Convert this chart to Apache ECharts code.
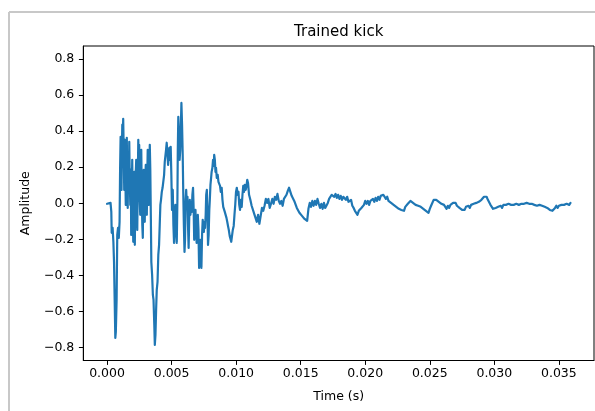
<!DOCTYPE html>
<html><head><meta charset="utf-8">
<script src="https://cdn.jsdelivr.net/npm/echarts@6/dist/echarts.min.js"></script>
<style>html,body{margin:0;padding:0;background:#fff}#c{width:595px;height:411px}</style>
</head><body><div id="c"></div><script>
// Time in milliseconds, amplitude
const headTimeMs = [
0.00,0.08,0.15,0.27,0.33,0.36,0.43,0.49,0.54,0.59,0.64,0.68,0.74,0.79,0.85,0.91,0.97,
1.01,1.05,1.08,1.12,1.15,1.18,1.22,1.25,1.29,1.33,1.37,1.41,1.45,1.49,1.53,1.56,1.60,1.64,1.68,1.72,1.76,1.80,1.84,1.87,1.91,1.95,1.99,
2.03,2.07,2.11,2.15,2.18,2.22,2.26,2.30,2.34,2.38,2.42,2.46,2.49,2.53,2.57,2.61,2.65,2.69,2.73,2.77,2.80,2.84,2.88,2.92,2.96,
3.00,3.04,3.08,3.11,3.15,3.19,3.23,3.27,3.31,3.35,3.39,3.43,3.49,3.55,3.60,3.66,3.70,3.75,3.80,3.85,3.91,3.97,
4.03,4.08,4.13,4.18,4.24,4.30,4.36,4.42,4.47,4.52,4.57,4.62,4.67,4.73,4.78,4.83,4.88,4.93,4.98,
5.03,5.09,5.14,5.19,5.24,5.29,5.34,5.40,5.45,5.48,5.52,5.58,5.62,5.67,5.72,5.76,5.81,5.86,5.90,5.95,
6.00,6.04,6.09,6.13,6.18,6.23,6.27,6.32,6.37,6.41,6.46,6.51,6.56,6.61,6.66,6.71,6.75,6.80,6.85,6.89,6.94,6.99,
7.03,7.08,7.13,7.17,7.22,7.27,7.31,7.36,7.41,7.45,7.50,7.54,7.59,7.64,7.68,7.73,7.78,7.82,7.87,7.92,7.96,
8.01,8.06,8.10,8.16,8.21,8.26,8.30,8.35,8.40,8.44,8.50,8.57,8.63,8.69,8.75,8.81,8.88,8.94,
9.00,9.06,9.12,9.19,9.25,9.31,9.37,9.43,9.50,9.56,9.62,9.68,9.74,9.81,9.87,9.93,9.99,
10.05,10.12,10.18,10.24,10.30,10.36,10.43,10.49,10.55,10.61,10.67,10.74,10.80,10.86,10.92
];
const headAmp = [
-0.003,0.002,-0.006,0.002,-0.048,-0.164,-0.137,-0.214,-0.326,-0.537,-0.748,-0.714,-0.537,-0.176,-0.137,-0.192,-0.103,
0.186,0.369,0.241,0.074,0.297,0.436,0.352,0.469,0.297,0.074,0.352,0.213,-0.009,0.297,0.363,0.158,-0.026,0.241,0.074,0.341,0.130,-0.009,0.186,-0.176,0.019,0.241,-0.064,
-0.214,0.074,0.174,-0.231,-0.037,0.158,0.241,0.019,-0.148,0.130,0.352,0.213,0.324,0.019,-0.064,0.241,0.297,0.047,-0.120,-0.192,0.019,0.186,0.074,-0.103,0.130,
0.213,0.019,-0.064,0.130,0.297,0.241,-0.009,0.186,0.324,0.186,-0.064,-0.326,-0.397,-0.509,-0.537,-0.676,-0.787,-0.731,-0.592,-0.481,-0.437,-0.287,
-0.231,-0.120,-0.009,0.019,0.063,0.086,0.097,0.158,0.230,0.241,0.297,0.336,0.286,0.213,0.269,0.308,0.241,0.313,0.158,
-0.037,0.074,-0.120,-0.220,-0.064,-0.009,-0.148,-0.220,0.019,0.297,0.480,0.352,0.241,0.297,0.436,0.557,0.436,0.269,0.074,-0.120,
-0.270,-0.203,0.019,0.074,-0.009,0.036,-0.120,-0.248,-0.064,0.019,-0.064,-0.009,-0.048,0.047,0.086,-0.037,-0.203,-0.103,-0.037,-0.148,-0.220,-0.120,
-0.064,-0.148,-0.359,-0.259,-0.203,-0.287,-0.359,-0.176,-0.092,-0.120,-0.159,-0.103,-0.137,-0.064,0.047,0.074,-0.064,-0.231,-0.176,-0.037,0.019,
0.102,0.141,0.174,0.197,0.241,0.208,0.269,0.241,0.174,0.197,0.141,0.158,0.119,0.130,0.097,0.063,0.086,0.019,
-0.020,-0.009,-0.048,-0.037,-0.081,-0.103,-0.126,-0.148,-0.181,-0.170,-0.214,-0.181,-0.148,-0.126,-0.064,-0.009,0.063,
0.086,0.047,0.063,-0.009,-0.037,0.019,-0.020,0.047,0.097,0.063,0.102,0.074,0.097,0.130,0.113
];
const tailTimeMs = [
11.0,11.1,11.2,11.3,11.4,11.5,11.6,11.7,11.8,11.9,
12.0,12.1,12.2,12.3,12.4,12.5,12.6,12.7,12.8,12.9,
13.0,13.1,13.2,13.3,13.4,13.5,13.6,13.7,13.8,13.9,
14.0,14.1,14.2,14.3,14.4,14.5,14.6,14.7,14.8,14.9,
15.0,15.1,15.2,15.3,15.4,15.5,15.6,15.7,15.8,15.9,
16.0,16.1,16.2,16.3,16.4,16.5,16.6,16.7,16.8,16.9,
17.0,17.1,17.2,17.3,17.4,17.5,17.6,17.7,17.8,17.9,
18.0,18.1,18.2,18.3,18.4,18.5,18.6,18.7,18.8,18.9,
19.0,19.1,19.2,19.3,19.4,19.5,19.6,19.7,19.8,19.9,
20.0,20.1,20.2,20.3,20.4,20.5,20.6,20.7,20.8,20.9,
21.0,21.1,21.2,21.3,21.4,21.5,21.6,21.7,21.8,21.9,
22.0,22.1,22.2,22.3,22.4,22.5,22.6,22.7,22.8,22.9,
23.0,23.1,23.2,23.3,23.4,23.5,23.6,23.7,23.8,23.9,
24.0,24.1,24.2,24.3,24.4,24.5,24.6,24.7,24.8,24.9,
25.0,25.1,25.2,25.3,25.4,25.5,25.6,25.7,25.8,25.9,
26.0,26.1,26.2,26.3,26.4,26.5,26.6,26.7,26.8,26.9,
27.0,27.1,27.2,27.3,27.4,27.5,27.6,27.7,27.8,27.9,
28.0,28.1,28.2,28.3,28.4,28.5,28.6,28.7,28.8,28.9,
29.0,29.1,29.2,29.3,29.4,29.5,29.6,29.7,29.8,29.9,
30.0,30.1,30.2,30.3,30.4,30.5,30.6,30.7,30.8,30.9,
31.0,31.1,31.2,31.3,31.4,31.5,31.6,31.7,31.8,31.9,
32.0,32.1,32.2,32.3,32.4,32.5,32.6,32.7,32.8,32.9,
33.0,33.1,33.2,33.3,33.4,33.5,33.6,33.7,33.8,33.9,
34.0,34.1,34.2,34.3,34.4,34.5,34.6,34.7,34.8,34.9,
35.0,35.1,35.2,35.3,35.4,35.5,35.6,35.7,35.8,35.9
];
const tailAmp = [
0.047,0.019,-0.014,-0.003,-0.059,-0.081,-0.103,-0.064,-0.114,-0.070,
-0.026,-0.042,-0.014,0.024,0.002,0.024,-0.026,-0.003,0.024,-0.003,
0.036,0.019,0.052,0.013,-0.003,0.013,-0.014,0.024,0.013,0.047,
0.069,0.086,0.063,0.041,0.047,0.013,0.002,-0.026,-0.026,-0.053,
-0.042,-0.070,-0.064,-0.087,-0.081,-0.098,-0.031,0.002,-0.020,0.013,
-0.014,0.013,-0.009,0.024,-0.003,-0.026,-0.003,-0.031,0.002,-0.026,
-0.031,0.002,0.024,0.030,0.047,0.058,0.036,0.052,0.030,0.047,
0.024,0.041,0.019,0.036,0.041,0.019,0.036,0.008,0.002,0.019,
-0.014,-0.026,-0.042,-0.053,-0.064,-0.042,-0.053,-0.026,-0.037,-0.009,
0.013,-0.003,0.013,-0.009,0.013,0.002,0.024,0.008,0.030,0.013,
0.036,0.019,0.041,0.030,0.047,0.036,0.024,0.036,0.013,0.024,
0.002,0.013,-0.009,0.002,-0.020,-0.014,-0.031,-0.020,-0.037,-0.026,
-0.042,-0.020,-0.014,-0.003,0.002,0.013,0.019,0.002,0.013,-0.009,
0.002,-0.014,-0.009,-0.020,-0.014,-0.031,-0.026,-0.042,-0.037,-0.053,
-0.031,-0.014,-0.003,0.019,0.030,0.019,0.024,0.008,0.019,-0.003,
0.008,-0.009,-0.020,-0.031,-0.014,-0.026,-0.009,-0.014,0.002,-0.009,
0.002,-0.014,-0.009,-0.026,-0.020,-0.037,-0.026,-0.037,-0.020,-0.031,
-0.014,-0.026,-0.009,-0.020,-0.003,-0.014,0.002,-0.009,0.008,0.002,
0.019,0.024,0.036,0.041,0.036,0.019,0.008,-0.009,-0.020,-0.031,
-0.037,-0.026,-0.037,-0.020,-0.031,-0.014,-0.026,-0.009,-0.020,-0.009,
-0.014,-0.003,-0.014,-0.009,-0.020,-0.009,-0.014,-0.003,-0.014,-0.009,
-0.014,-0.003,-0.014,-0.003,-0.009,0.002,-0.009,-0.003,-0.014,-0.003,
-0.014,-0.009,-0.020,-0.014,-0.020,-0.009,-0.020,-0.014,-0.009,-0.020,
-0.014,-0.026,-0.031,-0.037,-0.031,-0.042,-0.031,-0.026,-0.014,-0.026,
-0.014,-0.020,-0.009,-0.020,-0.009,-0.014,-0.003,-0.014,-0.009,0.002
];
const xTicks = [0, 0.005, 0.010, 0.015, 0.020, 0.025, 0.030, 0.035];
const yTicks = [-0.8, -0.6, -0.4, -0.2, 0.0, 0.2, 0.4, 0.6, 0.8];
const titleText = 'Trained kick';
const xLabel = 'Time (s)';
const yLabel = 'Amplitude';

const timeMs = headTimeMs.concat(tailTimeMs);
const amp = headAmp.concat(tailAmp);
const seriesData = timeMs.map((t, i) => [t / 1000, amp[i]]);

const FONT = 'DejaVu Sans';
const minus = s => s.replace('-', '\u2212');
const chart = echarts.init(document.getElementById('c'), null, {renderer: 'canvas'});
chart.setOption({
  animation: false,
  backgroundColor: '#fff',
  grid: {left: 83.3, right: 1, top: 46, bottom: 50.5, show: true, borderColor: '#000', borderWidth: 1, containLabel: false},
  xAxis: {
    type: 'value', min: -0.00184, max: 0.03772,
    name: xLabel, nameLocation: 'middle', nameGap: 30,
    nameTextStyle: {fontFamily: FONT, fontSize: 12.5, color: '#000'},
    axisLine: {show: true, onZero: false, lineStyle: {color: '#000', width: 1}},
    axisTick: {show: true, length: 4.4, inside: false, customValues: xTicks, lineStyle: {color: '#000', width: 1}},
    axisLabel: {customValues: xTicks, margin: 7, fontFamily: FONT, fontSize: 12.5, color: '#000',
      formatter: v => minus(v.toFixed(3))},
    splitLine: {show: false}
  },
  yAxis: {
    type: 'value', min: -0.873, max: 0.873,
    name: yLabel, nameLocation: 'middle', nameGap: 51,
    nameTextStyle: {fontFamily: FONT, fontSize: 12.5, color: '#000'},
    axisLine: {show: true, onZero: false, lineStyle: {color: '#000', width: 1}},
    axisTick: {show: true, length: 4.4, inside: false, customValues: yTicks, lineStyle: {color: '#000', width: 1}},
    axisLabel: {customValues: yTicks, margin: 9, fontFamily: FONT, fontSize: 12.5, color: '#000',
      formatter: v => minus(v.toFixed(1))},
    splitLine: {show: false}
  },
  graphic: [
    {type: 'line', shape: {x1: 9, y1: 12, x2: 595, y2: 12}, style: {stroke: '#c8c8c8', lineWidth: 2}, silent: true},
    {type: 'line', shape: {x1: 9, y1: 12, x2: 9, y2: 411}, style: {stroke: '#c8c8c8', lineWidth: 2}, silent: true},
    {type: 'text', x: 338.7, y: 32, style: {text: titleText, fontFamily: FONT, fontSize: 15, fill: '#000', textAlign: 'center', textVerticalAlign: 'middle'}, silent: true}
  ],
  series: [{
    type: 'line', data: seriesData, showSymbol: false, symbol: 'none', sampling: null,
    lineStyle: {color: '#1f77b4', width: 2.2, join: 'round', cap: 'round'},
    clip: true
  }]
});
</script></body></html>
